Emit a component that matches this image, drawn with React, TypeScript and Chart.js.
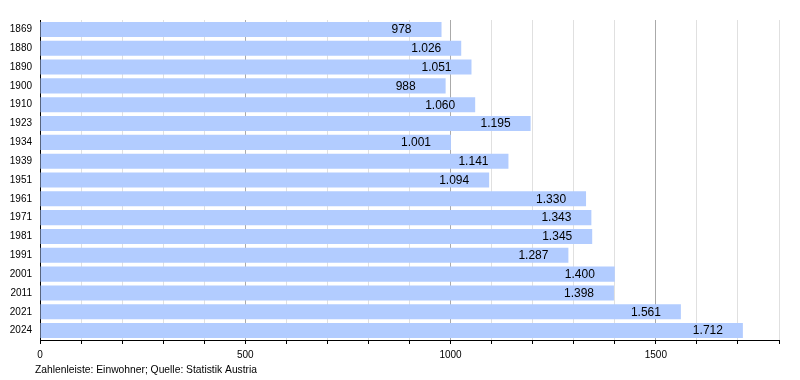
import { useEffect, useRef } from 'react';
import { Chart, registerables } from 'chart.js';

Chart.register(...registerables);

const years = ['1869', '1880', '1890', '1900', '1910', '1923', '1934', '1939', '1951', '1961', '1971', '1981', '1991', '2001', '2011', '2021', '2024'];
const population = [978, 1026, 1051, 988, 1060, 1195, 1001, 1141, 1094, 1330, 1343, 1345, 1287, 1400, 1398, 1561, 1712];
const xMax = 1800;
const xMinorStep = 100;
const xMajorStep = 500;
const footerText = 'Zahlenleiste: Einwohner; Quelle: Statistik Austria';

const FONT = '"Liberation Sans", Arial, Helvetica, sans-serif';

function fmt(v: number): string {
  return String(v).replace(/\B(?=(\d{3})+(?!\d))/g, '.');
}

export default function App() {
  const ref = useRef<HTMLCanvasElement>(null);

  useEffect(() => {
    if (!ref.current) return;
    const valueLabels = {
      id: 'valueLabels',
      afterDatasetsDraw(chart: any) {
        const ctx = chart.ctx;
        const meta = chart.getDatasetMeta(0);
        ctx.save();
        ctx.font = `12px ${FONT}`;
        ctx.fillStyle = '#000';
        ctx.textAlign = 'left';
        ctx.textBaseline = 'middle';
        meta.data.forEach((bar: any, i: number) => {
          ctx.fillText(fmt(population[i]), bar.x - 50, bar.y + 0.5);
        });
        ctx.restore();
      },
    };
    const footer = {
      id: 'footer',
      afterDraw(chart: any) {
        const ctx = chart.ctx;
        ctx.save();
        ctx.font = `10.3px ${FONT}`;
        ctx.fillStyle = '#000';
        ctx.textAlign = 'left';
        ctx.textBaseline = 'middle';
        ctx.fillText(footerText, 35, 370);
        ctx.restore();
      },
    };

    const chart = new Chart(ref.current, {
      type: 'bar',
      data: {
        labels: years,
        datasets: [
          {
            data: population,
            backgroundColor: '#b2ccff',
            barPercentage: 0.8,
            categoryPercentage: 1,
          },
        ],
      },
      options: {
        indexAxis: 'y',
        animation: false,
        responsive: false,
        maintainAspectRatio: false,
        plugins: { legend: { display: false }, tooltip: { enabled: false } },
        layout: { padding: { left: 0, top: 20, right: 21, bottom: 0 } },
        scales: {
          x: {
            type: 'linear',
            min: 0,
            max: xMax,
            afterFit(s: any) {
              s.height = 40;
            },
            grid: {
              color: (c: any) => (c.tick && c.tick.value % xMajorStep === 0 ? '#aaaaaa' : '#e0e0e0'),
              tickColor: '#000',
              tickLength: 4,
              lineWidth: 1,
            },
            border: { color: '#000', width: 1 },
            ticks: {
              stepSize: xMinorStep,
              autoSkip: false,
              maxRotation: 0,
              padding: 5,
              color: '#000',
              font: { family: FONT, size: 10 },
              callback: (v: any) => (Number(v) % xMajorStep === 0 ? String(v) : ''),
            },
          },
          y: {
            afterFit(s: any) {
              s.width = 40;
            },
            grid: { display: false, drawTicks: false, tickLength: 0 },
            border: { color: '#000', width: 1 },
            ticks: {
              color: '#000',
              font: { family: FONT, size: 10 },
              padding: 8,
              autoSkip: false,
            },
          },
        },
      },
      plugins: [valueLabels, footer],
    } as any);

    return () => chart.destroy();
  }, []);

  return (
    <div style={{ position: 'absolute', left: 0, top: 0, width: 800, height: 380, background: '#fff' }}>
      <canvas ref={ref} width={800} height={380} />
    </div>
  );
}
